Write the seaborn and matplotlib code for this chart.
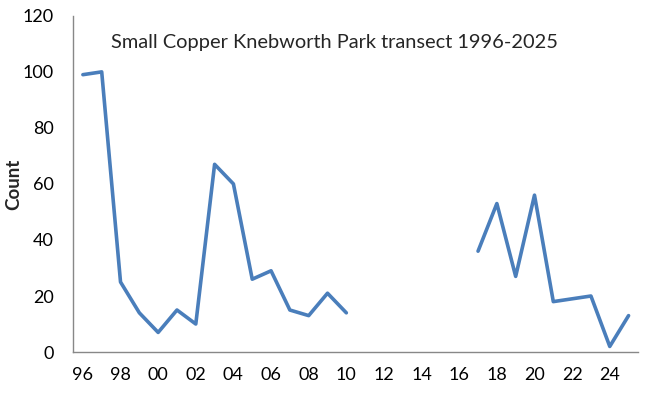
import numpy as np
import pandas as pd
import matplotlib
matplotlib.use("Agg")
import matplotlib.pyplot as plt
import seaborn as sns

years = ["96", "97", "98", "99", "00", "01", "02", "03", "04", "05",
         "06", "07", "08", "09", "10", "11", "12", "13", "14", "15",
         "16", "17", "18", "19", "20", "21", "22", "23", "24", "25"]
counts = [99, 100, 25, 14, 7, 15, 10, 67, 60, 26,
          29, 15, 13, 21, 14, None, None, None, None, None,
          None, 36, 53, 27, 56, 18, 19, 20, 2, 13]
title = "Small Copper Knebworth Park transect 1996-2025"
y_ticks = [0, 20, 40, 60, 80, 100, 120]

sns.set_theme(style="white")
plt.rcParams['font.family'] = ['Lato', 'DejaVu Sans']

# build data frame with segment ids so gaps break the line
rows = []
seg = 0
prev_nan = True
for i, (yr, c) in enumerate(zip(years, counts)):
    if c is None:
        prev_nan = True
        continue
    if prev_nan:
        seg += 1
        prev_nan = False
    rows.append({"pos": i, "count": c, "seg": seg})
df = pd.DataFrame(rows)

fig = plt.figure(figsize=(6.52, 3.96), dpi=100)
ax = fig.add_axes([0.1127, 0.111, 0.8658, 0.849])
sns.lineplot(data=df, x="pos", y="count", units="seg", estimator=None,
             color="#4A7EBB", linewidth=2.6, ax=ax, legend=False)

ax.set_xlim(-0.5, len(years) - 0.5)
ax.set_ylim(0, 120)
ax.set_yticks(y_ticks)
ax.set_yticklabels([str(v) for v in y_ticks], fontsize=13)
ax.set_xticks(range(0, len(years), 2))
ax.set_xticklabels(years[::2], fontsize=13)
ax.tick_params(axis="y", length=0, pad=14, colors="black")
ax.tick_params(axis="x", length=0, pad=11, colors="black")
ax.set_xlabel("")
ax.set_ylabel("Count", fontsize=13.5, fontweight="bold")
ax.yaxis.set_label_coords(-0.091, 0.5)
for s in ["top", "right"]:
    ax.spines[s].set_visible(False)
for s in ["left", "bottom"]:
    ax.spines[s].set_color("#888888")
    ax.spines[s].set_linewidth(1.0)
ax.text(1.5, 110.5, title, fontsize=14.4, ha="left", va="center")

fig.savefig("out.png", dpi=100)
